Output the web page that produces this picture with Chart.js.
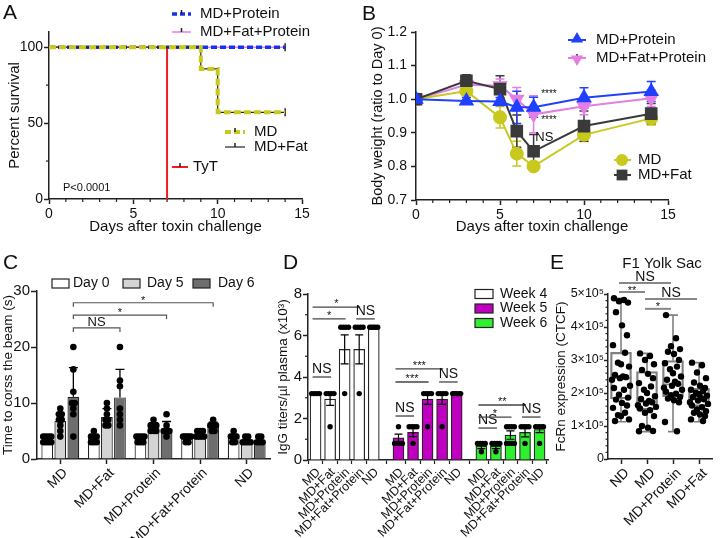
<!DOCTYPE html>
<html>
<head>
<meta charset="utf-8">
<title>Diet and toxin challenge</title>
<script src="https://cdn.jsdelivr.net/npm/chart.js@4.4.1/dist/chart.umd.min.js"></script>
<style>
  body { margin: 0; background: #fff; }
  #fig { position: relative; width: 725px; height: 538px; overflow: hidden; background: #fff; }
  #fig canvas { position: absolute; left: 0; top: 0; }
</style>
</head>
<body>
<div id="fig">
  <canvas id="chartA" width="725" height="538"></canvas>
  <canvas id="chartB" width="725" height="538"></canvas>
  <canvas id="chartC" width="725" height="538"></canvas>
  <canvas id="chartD" width="725" height="538"></canvas>
  <canvas id="chartE" width="725" height="538"></canvas>
</div>
<script>
// ---------- A: survival (%) ----------
const survDaysMD = [0, 9, 10, 14];
const survMD = [100, 85.7, 57.1, 57.1];
const survMDFat = [100, 85.7, 57.1, 57.1];
const survDaysProt = [0, 14];
const survProt = [100, 100];
const survFatProt = [100, 100];
const tytDay = 7;

// ---------- B: body weight (ratio to day 0) ----------
const bwDays = [0, 3, 5, 6, 7, 10, 14];
const bwMD = [1.000, 1.024, 0.946, 0.838, 0.800, 0.894, 0.943];
const bwMDsd = [0, 0.012, 0.032, 0.037, 0.012, 0.02, 0.02];
const bwFat = [1.000, 1.055, 1.030, 0.905, 0.845, 0.920, 0.957];
const bwFatSd = [0, 0.018, 0.04, 0.048, 0.05, 0.045, 0.03];
const bwProt = [1.000, 0.995, 0.993, 0.976, 0.976, 1.004, 1.023];
const bwProtSd = [0, 0.01, 0.012, 0.048, 0.03, 0.03, 0.03];
const bwFatProt = [1.000, 1.043, 1.040, 1.000, 0.955, 0.979, 1.003];
const bwFatProtSd = [0, 0.01, 0.02, 0.035, 0.055, 0.025, 0.025];

// ---------- C: beam crossing time (s) ----------
const beamGroups = ['MD', 'MD+Fat', 'MD+Protein', 'MD+Fat+Protein', 'ND'];
const beamDay0 = [3.5, 3.7, 3.6, 3.7, 3.8];
const beamDay5 = [6.8, 7.5, 5.7, 4.4, 3.4];
const beamDay6 = [11.1, 11.0, 5.4, 5.8, 3.3];
const beamSd0 = [0.5, 0.7, 0.5, 0.5, 0.6];
const beamSd5 = [1.3, 1.5, 0.8, 0.5, 0.5];
const beamSd6 = [5.2, 5.0, 1.3, 0.8, 0.5];
const beamPts0 = [[3,3,3,3,4,4,4,4],[3,3,3,4,4,4,5],[3,3,3,4,4,4,4],[3,3,4,4,4,4,4],[3,3,4,4,4,5]];
const beamPts5 = [[4,5,6,7,7,8,8,9],[6,6,7,7,8,9,10],[5,5,5,6,6,6,7],[4,4,4,4,5,5,5],[3,3,3,3,4,4]];
const beamPts6 = [[4,8,9,10,10,12,16,20],[6,7,8,9,13,14,20],[4,5,5,5,6,8],[5,5,6,6,6,7],[3,3,3,4,4]];
const beamBrackets = [
  { to: 1, y: 23.4, label: 'NS' },
  { to: 2, y: 25.7, label: '*' },
  { to: 3, y: 27.9, label: '*' }
];

// ---------- D: IgG titers (x10^3 per ul) ----------
const iggGroups = ['MD', 'MD+Fat', 'MD+Protein', 'MD+Fat+Protein', 'ND'];
const iggWeeks = ['Week 4', 'Week 5', 'Week 6'];
const iggWeek4 = [3.2, 2.93, 5.33, 5.33, 6.4];
const iggWeek5 = [1.07, 1.33, 2.93, 2.93, 3.2];
const iggWeek6 = [0.67, 0.67, 1.2, 1.33, 1.47];
const iggErr4 = [0, 0.3, 0.7, 0.7, 0];
const iggErr5 = [0.18, 0.2, 0.25, 0.25, 0];
const iggErr6 = [0.12, 0.12, 0.2, 0.22, 0.15];
const iggPts4 = [[3.2,3.2,3.2,3.2],[3.2,3.2,3.2,3.2,1.6],[6.4,6.4,6.4,6.4,3.2],[6.4,6.4,6.4,6.4,3.2],[6.4,6.4,6.4,6.4,6.4]];
const iggPts5 = [[1.6,0.8,0.8,0.8,0.8],[1.6,1.6,1.6,1.6,0.8],[3.2,3.2,3.2,3.2,1.6],[3.2,3.2,3.2,3.2,1.6],[3.2,3.2,3.2,3.2,3.2]];
const iggPts6 = [[0.8,0.8,0.8,0.8,0.4],[0.8,0.8,0.8,0.8,0.4],[1.6,1.6,1.6,1.6,0.8,0.8,0.8,0.8],[1.6,1.6,1.6,1.6,0.8],[1.6,1.6,1.6,1.6,0.8]];
const iggBrackets = [
  { w: 0, a: 0, b: 1, y: 4.0, label: 'NS' },
  { w: 0, a: 0, b: 2, y: 6.8, label: '*' },
  { w: 0, a: 0, b: 3, y: 7.37, label: '*' },
  { w: 0, a: 3, b: 4, y: 6.8, label: 'NS' },
  { w: 1, a: 0, b: 1, y: 2.12, label: 'NS' },
  { w: 1, a: 0, b: 2, y: 3.76, label: '***' },
  { w: 1, a: 0, b: 3, y: 4.39, label: '***' },
  { w: 1, a: 3, b: 4, y: 3.76, label: 'NS' },
  { w: 2, a: 0, b: 1, y: 1.54, label: 'NS' },
  { w: 2, a: 0, b: 2, y: 2.07, label: '*' },
  { w: 2, a: 0, b: 3, y: 2.65, label: '**' },
  { w: 2, a: 3, b: 4, y: 2.07, label: 'NS' }
];

// ---------- E: FcRn expression, F1 yolk sac (CTCF) ----------
const fcrnGroups = ['ND', 'MD', 'MD+Protein', 'MD+Fat'];
const fcrnMin = [113000, 83000, 83000, 113000];
const fcrnQ1 = [182000, 149000, 188000, 159000];
const fcrnMed = [245000, 174000, 226000, 188000];
const fcrnQ3 = [323000, 265000, 298000, 214000];
const fcrnMax = [487000, 320000, 436000, 292000];
const fcrnND = [487000, 482000, 478000, 474000, 445000, 405000, 375000, 345000, 322000, 292000, 287000, 280000, 255000, 250000, 248000, 245000, 240000, 222000, 215000, 210000, 195000, 186000, 180000, 170000, 162000, 155000, 140000, 133000, 130000, 120000, 115000];
const fcrnMD = [320000, 312000, 300000, 287000, 270000, 258000, 245000, 230000, 220000, 210000, 200000, 190000, 182000, 176000, 172000, 168000, 163000, 158000, 153000, 148000, 140000, 130000, 100000, 95000, 85000, 84000];
const fcrnProt = [436000, 366000, 342000, 333000, 325000, 318000, 300000, 290000, 280000, 272000, 260000, 250000, 240000, 234000, 228000, 222000, 216000, 210000, 204000, 198000, 193000, 188000, 183000, 178000, 172000, 112000, 84000];
const fcrnFat = [292000, 284000, 262000, 245000, 232000, 222000, 215000, 210000, 205000, 200000, 196000, 192000, 188000, 185000, 181000, 177000, 172000, 167000, 162000, 157000, 150000, 145000, 140000, 135000, 130000, 120000, 115000];
const fcrnBrackets = [
  { a: 0, b: 2, y: 533000, label: 'NS' },
  { a: 0, b: 1, y: 506000, label: '**' },
  { a: 1, b: 3, y: 485000, label: 'NS' },
  { a: 1, b: 2, y: 455000, label: '*' }
];

// ---------- shared setup ----------
const FF = '"Liberation Sans", Arial, Helvetica, sans-serif';
Chart.defaults.font.family = FF;
Chart.defaults.color = '#111';
Chart.defaults.animation = false;
Chart.defaults.responsive = false;
Chart.defaults.maintainAspectRatio = false;
Chart.defaults.plugins.legend.display = false;
Chart.defaults.plugins.tooltip.enabled = false;

const AX = '#222';
const OLIVE = '#c8c81e', VIOLET = '#e47ee4', BLUE = '#2040ff', DARK = '#3a3a3a';

function pt(xs, ys) { return xs.map((x, i) => ({ x: x, y: ys[i] })); }

function txt(ctx, s, x, y, size, align, color, rot) {
  ctx.save();
  ctx.font = size + 'px ' + FF;
  ctx.fillStyle = color || '#111';
  ctx.textAlign = align || 'left';
  ctx.textBaseline = 'middle';
  ctx.translate(x, y);
  if (rot) ctx.rotate(rot);
  ctx.fillText(s, 0, 0);
  ctx.restore();
}

function yAxis(o) {
  return {
    type: 'linear', min: o.min, max: o.max,
    afterBuildTicks: s => { s.ticks = o.ticks.map(v => ({ value: v })); },
    afterFit: s => { s.width = o.w; },
    ticks: { font: { size: o.tf }, padding: o.tp, color: '#111', autoSkip: false, callback: o.cb || (v => v) },
    grid: { drawOnChartArea: false, tickLength: o.tl || 5, tickWidth: 1.5, tickColor: AX },
    border: { color: AX, width: 1.5 },
    title: { display: true, text: o.title, font: { size: o.ttf }, color: '#111', padding: { top: o.tpt, bottom: 0 } }
  };
}

function xLin(o) {
  return {
    type: 'linear', min: o.min, max: o.max,
    afterBuildTicks: s => { s.ticks = o.ticks.map(v => ({ value: v })); },
    afterFit: s => { s.height = o.h; },
    ticks: { font: { size: o.tf }, padding: 2, color: '#111', autoSkip: false, maxRotation: 0 },
    grid: { drawOnChartArea: false, tickLength: 5, tickWidth: 1.5, tickColor: AX },
    border: { color: AX, width: 1.5 },
    title: { display: true, text: o.title, font: { size: o.ttf }, color: '#111', padding: { top: 0, bottom: o.tpb } }
  };
}

function xCat(h, size, shift) {
  return {
    type: 'category', offset: true,
    afterFit: s => { s.height = h; },
    ticks: { font: { size: size }, padding: 1, labelOffset: shift, color: '#111', autoSkip: false, minRotation: 45, maxRotation: 45 },
    grid: { offset: false, drawOnChartArea: false, tickLength: 5, tickWidth: 1.5, tickColor: AX },
    border: { color: AX, width: 1.5 }
  };
}

// small unlabeled ticks between the labelled ones
Chart.register({
  id: 'minor',
  afterDraw(chart, args, opts) {
    const ctx = chart.ctx, ca = chart.chartArea;
    ctx.save(); ctx.strokeStyle = AX; ctx.lineWidth = 1.2;
    (opts.list || []).forEach(m => {
      const s = chart.scales[m.axis];
      m.values.forEach(v => {
        const p = s.getPixelForValue(v);
        ctx.beginPath();
        if (m.axis === 'x') { ctx.moveTo(p, ca.bottom); ctx.lineTo(p, ca.bottom + m.len); }
        else { ctx.moveTo(ca.left, p); ctx.lineTo(ca.left - m.len, p); }
        ctx.stroke();
      });
    });
    ctx.restore();
  }
});

function errBars(chart, dsi, sd, cap, color, lw, upOnly) {
  const meta = chart.getDatasetMeta(dsi), ys = chart.scales.y, ctx = chart.ctx;
  const vals = chart.data.datasets[dsi].data;
  ctx.save(); ctx.strokeStyle = color; ctx.lineWidth = lw;
  meta.data.forEach((el, i) => {
    const s = sd[i]; if (!s) return;
    const v = typeof vals[i] === 'object' ? vals[i].y : vals[i];
    const yt = ys.getPixelForValue(v + s), yb = ys.getPixelForValue(upOnly ? v : v - s);
    ctx.beginPath();
    ctx.moveTo(el.x, yt); ctx.lineTo(el.x, yb);
    ctx.moveTo(el.x - cap, yt); ctx.lineTo(el.x + cap, yt);
    if (!upOnly) { ctx.moveTo(el.x - cap, yb); ctx.lineTo(el.x + cap, yb); }
    ctx.stroke();
  });
  ctx.restore();
}

// points with equal value are laid side by side across the bar
function barDots(chart, dsi, pts, r, step, maxSpan) {
  const meta = chart.getDatasetMeta(dsi), ys = chart.scales.y, ctx = chart.ctx;
  ctx.save(); ctx.fillStyle = '#000';
  meta.data.forEach((el, i) => {
    const counts = {};
    (pts[i] || []).forEach(v => { counts[v] = (counts[v] || 0) + 1; });
    Object.keys(counts).forEach(k => {
      const n = counts[k], y = ys.getPixelForValue(+k);
      const st = n > 1 ? Math.min(step, maxSpan / (n - 1)) : 0;
      for (let j = 0; j < n; j++) {
        ctx.beginPath(); ctx.arc(el.x + (j - (n - 1) / 2) * st, y, r, 0, Math.PI * 2); ctx.fill();
      }
    });
  });
  ctx.restore();
}

function bracket(ctx, x1, x2, y, label, o) {
  ctx.save(); ctx.strokeStyle = o.color; ctx.lineWidth = o.lw;
  ctx.beginPath();
  if (o.drop) { ctx.moveTo(x1, y + o.drop); ctx.lineTo(x1, y); ctx.lineTo(x2, y); ctx.lineTo(x2, y + o.drop); }
  else { ctx.moveTo(x1, y); ctx.lineTo(x2, y); }
  ctx.stroke(); ctx.restore();
  const ns = label === 'NS';
  txt(ctx, label, (x1 + x2) / 2, y - (ns ? o.nsOff : o.starOff), ns ? o.nsSize : o.starSize, 'center');
}

function legLine(ctx, x1, x2, y, color, w, dash) {
  ctx.save(); ctx.strokeStyle = color; ctx.lineWidth = w; ctx.setLineDash(dash || []);
  ctx.beginPath(); ctx.moveTo(x1, y); ctx.lineTo(x2, y); ctx.stroke();
  ctx.setLineDash([]); ctx.strokeStyle = AX; ctx.lineWidth = 1.5;
  const m = (x1 + x2) / 2;
  ctx.beginPath(); ctx.moveTo(m, y - 4); ctx.lineTo(m, y); ctx.stroke();
  ctx.restore();
}

function marker(ctx, type, x, y, r, color) {
  ctx.save(); ctx.fillStyle = color; ctx.beginPath();
  if (type === 'circle') ctx.arc(x, y, r, 0, Math.PI * 2);
  else if (type === 'rect') ctx.rect(x - r * 0.72, y - r * 0.72, r * 1.44, r * 1.44);
  else if (type === 'up') { ctx.moveTo(x, y - r); ctx.lineTo(x + r * 0.87, y + r * 0.5); ctx.lineTo(x - r * 0.87, y + r * 0.5); }
  else { ctx.moveTo(x, y + r); ctx.lineTo(x + r * 0.87, y - r * 0.5); ctx.lineTo(x - r * 0.87, y - r * 0.5); }
  ctx.closePath(); ctx.fill(); ctx.restore();
}

function censor(n) {
  return { pointStyle: 'line', pointRotation: 90, pointBorderColor: AX, pointBorderWidth: 1.5,
           pointRadius: c => c.dataIndex === n - 1 ? 4 : 0 };
}

// ---------- A ----------
new Chart(document.getElementById('chartA'), {
  type: 'line',
  data: { datasets: [
    { data: pt([tytDay, tytDay], [0, 100]), borderColor: '#f01c1c', borderWidth: 2, pointRadius: 0, order: 5 },
    Object.assign({ data: pt(survDaysProt, survFatProt), borderColor: VIOLET, borderWidth: 1.5, order: 4 }, censor(survDaysProt.length)),
    { data: pt(survDaysProt, survProt), borderColor: '#1432f0', borderWidth: 3.5, borderDash: [6, 3], pointRadius: 0, order: 3 },
    Object.assign({ data: pt(survDaysMD, survMDFat), borderColor: AX, borderWidth: 1.2, stepped: true, order: 2 }, censor(survDaysMD.length)),
    { data: pt(survDaysMD, survMD), borderColor: OLIVE, borderWidth: 4, borderDash: [7, 3], stepped: true, pointRadius: 0, order: 1 }
  ]},
  options: {
    layout: { padding: { left: 0, top: 32, right: 423, bottom: 299 } },
    scales: {
      x: xLin({ min: 0, max: 15, ticks: [0, 5, 10, 15], h: 40, title: 'Days after toxin challenge', ttf: 15, tpb: 3, tf: 14 }),
      y: yAxis({ min: 0, max: 110, ticks: [0, 50, 100], w: 49, title: 'Percent survival', ttf: 15, tpt: 6, tf: 14, tp: 1 })
    },
    plugins: { minor: { list: [
      { axis: 'x', values: [1, 2, 3, 4, 6, 7, 8, 9, 11, 12, 13, 14], len: 3 },
      { axis: 'y', values: [25, 75], len: 3 }
    ] } }
  },
  plugins: [{ id: 'annA', afterDraw(chart) {
    const ctx = chart.ctx;
    txt(ctx, 'A', 3, 13, 21);
    legLine(ctx, 172, 191, 14, '#1432f0', 3.5, [5, 3]);
    txt(ctx, 'MD+Protein', 200, 14, 15);
    legLine(ctx, 172, 191, 32, VIOLET, 1.5);
    txt(ctx, 'MD+Fat+Protein', 200, 32, 15);
    legLine(ctx, 225, 245, 132, OLIVE, 4, [6, 3]);
    txt(ctx, 'MD', 254, 132, 15);
    legLine(ctx, 225, 245, 147, AX, 1.2);
    txt(ctx, 'MD+Fat', 254, 147, 15);
    legLine(ctx, 172, 188, 167, '#f01c1c', 2);
    txt(ctx, 'TyT', 193, 167, 15);
    txt(ctx, 'P<0.0001', 63, 188, 11);
  } }]
});

// ---------- B ----------
function bwSeries(vals, sd, color, style, r, rot, order) {
  return { data: pt(bwDays, vals), sd: sd, borderColor: color, backgroundColor: color,
           pointBackgroundColor: color, pointBorderColor: color, pointStyle: style,
           pointRadius: r, pointRotation: rot, borderWidth: 2, order: order };
}
new Chart(document.getElementById('chartB'), {
  type: 'line',
  data: { datasets: [
    bwSeries(bwMD, bwMDsd, OLIVE, 'circle', 6, 0, 2),
    bwSeries(bwFat, bwFatSd, DARK, 'rect', 7.5, 0, 1),
    bwSeries(bwFatProt, bwFatProtSd, VIOLET, 'triangle', 7, 180, 3),
    bwSeries(bwProt, bwProtSd, BLUE, 'triangle', 7, 0, 0)
  ]},
  options: {
    layout: { padding: { left: 360, top: 32, right: 57, bottom: 300 } },
    scales: {
      x: xLin({ min: 0, max: 15, ticks: [0, 5, 10, 15], h: 38, title: 'Days after toxin challenge', ttf: 15, tpb: 2, tf: 14 }),
      y: yAxis({ min: 0.7, max: 1.2, ticks: [0.7, 0.8, 0.9, 1.0, 1.1, 1.2], w: 56, title: 'Body weight (ratio to Day 0)',
                 ttf: 14.5, tpt: 9, tf: 14, tp: 4, cb: v => v.toFixed(1) })
    },
    plugins: { minor: { list: [{ axis: 'x', values: [1, 2, 3, 4, 6, 7, 8, 9, 11, 12, 13, 14], len: 3 }] } }
  },
  plugins: [{ id: 'annB',
    beforeDatasetsDraw(chart) {
      chart.data.datasets.forEach((ds, i) => errBars(chart, i, ds.sd, 4.5, ds.borderColor, 1.5, false));
    },
    afterDraw(chart) {
      const ctx = chart.ctx;
      txt(ctx, 'B', 362, 14, 21);
      legLine(ctx, 568, 586, 40, BLUE, 2); marker(ctx, 'up', 577, 39, 7, BLUE);
      txt(ctx, 'MD+Protein', 596, 40, 15);
      legLine(ctx, 568, 586, 58, VIOLET, 2); marker(ctx, 'down', 577, 59, 7, VIOLET);
      txt(ctx, 'MD+Fat+Protein', 596, 58, 15);
      legLine(ctx, 614, 631, 160, OLIVE, 2); marker(ctx, 'circle', 622, 160, 6, OLIVE);
      txt(ctx, 'MD', 638, 160, 15);
      legLine(ctx, 614, 631, 175, DARK, 2); marker(ctx, 'rect', 622, 175, 7.5, DARK);
      txt(ctx, 'MD+Fat', 638, 175, 15);
      const xs = chart.scales.x, ys = chart.scales.y;
      txt(ctx, '****', xs.getPixelForValue(7.45), ys.getPixelForValue(1.016), 10);
      txt(ctx, '****', xs.getPixelForValue(7.45), ys.getPixelForValue(0.936), 10);
      txt(ctx, 'NS', xs.getPixelForValue(7.1), ys.getPixelForValue(0.885), 13);
    }
  }]
});

// ---------- C ----------
new Chart(document.getElementById('chartC'), {
  type: 'bar',
  data: { labels: beamGroups, datasets: [
    { label: 'Day 0', data: beamDay0, sd: beamSd0, pts: beamPts0, backgroundColor: '#ffffff' },
    { label: 'Day 5', data: beamDay5, sd: beamSd5, pts: beamPts5, backgroundColor: '#d4d4d4' },
    { label: 'Day 6', data: beamDay6, sd: beamSd6, pts: beamPts6, backgroundColor: '#6e6e6e' }
  ]},
  options: {
    layout: { padding: { left: 0, top: 291, right: 455, bottom: 0 } },
    datasets: { bar: { categoryPercentage: 0.84, barPercentage: 0.9, borderColor: AX, borderWidth: 1.2 } },
    scales: {
      x: xCat(79, 13.8, 5),
      y: yAxis({ min: 0, max: 30, ticks: [0, 10, 20, 30], w: 37, title: 'Time to corss the beam (s)', ttf: 13.5, tpt: 0, tf: 15, tp: 1, tl: 6 })
    }
  },
  plugins: [{ id: 'annC', afterDatasetsDraw(chart) {
    const ctx = chart.ctx;
    chart.data.datasets.forEach((ds, i) => {
      errBars(chart, i, ds.sd, 4.5, '#000', 1.3, true);
      barDots(chart, i, ds.pts, 3.3, 2.8, 8);
    });
    const d6 = chart.getDatasetMeta(2).data, ys = chart.scales.y;
    beamBrackets.forEach(b => bracket(ctx, d6[0].x, d6[b.to].x, ys.getPixelForValue(b.y), b.label,
      { color: '#555', lw: 1.2, drop: 4, nsOff: 6, starOff: 2, nsSize: 13, starSize: 11 }));
    txt(ctx, 'C', 3, 263, 21);
    const leg = [[52, '#ffffff', 'Day 0', 73], [123, '#d4d4d4', 'Day 5', 147], [193, '#6e6e6e', 'Day 6', 218]];
    leg.forEach(l => {
      ctx.save(); ctx.fillStyle = l[1]; ctx.strokeStyle = AX; ctx.lineWidth = 1.2;
      ctx.fillRect(l[0], 279, 17, 9); ctx.strokeRect(l[0], 279, 17, 9); ctx.restore();
      txt(ctx, l[2], l[3], 283.5, 14);
    });
  } }]
});

// ---------- D ----------
const iggSpan = 5.7; // group spacing on the x axis, in bar slots
const iggPos = (w, i) => w * iggSpan + i;
const iggMeans = [iggWeek4, iggWeek5, iggWeek6];
const iggErrs = [iggErr4, iggErr5, iggErr6];
const iggPts = [iggPts4, iggPts5, iggPts6];
const iggColors = ['#ffffff', '#c000c0', '#30ee30'];
const iggTickPos = [];
iggMeans.forEach((m, w) => m.forEach((v, i) => iggTickPos.push(iggPos(w, i))));
new Chart(document.getElementById('chartD'), {
  type: 'bar',
  data: { datasets: iggMeans.map((m, w) => ({
    label: iggWeeks[w], data: m.map((v, i) => ({ x: iggPos(w, i), y: v })), sd: iggErrs[w], pts: iggPts[w],
    backgroundColor: iggColors[w]
  })) },
  options: {
    layout: { padding: { left: 268, top: 294, right: 177, bottom: 0 } },
    datasets: { bar: { grouped: false, barThickness: 11, borderColor: AX, borderWidth: 1.2 } },
    scales: {
      x: {
        type: 'linear', min: -0.52, max: 15.98, offset: false,
        afterBuildTicks: s => { s.ticks = iggTickPos.map(v => ({ value: v })); },
        afterFit: s => { s.height = 78; },
        ticks: { font: { size: 12.5 }, padding: 1, labelOffset: 3, color: '#111', autoSkip: false, minRotation: 45, maxRotation: 45,
                 callback: (v, i) => iggGroups[i % iggGroups.length] },
        grid: { drawOnChartArea: false, tickLength: 4, tickWidth: 1.2, tickColor: AX },
        border: { color: AX, width: 1.5 }
      },
      y: yAxis({ min: 0, max: 8, ticks: [0, 2, 4, 6, 8], w: 40, title: 'IgG titers/µl plasma (x10³)', ttf: 13.5, tpt: 7, tf: 15, tp: 1 })
    },
    plugins: { minor: { list: [{ axis: 'y', values: [1, 3, 5, 7], len: 3 }] } }
  },
  plugins: [{ id: 'annD', afterDatasetsDraw(chart) {
    const ctx = chart.ctx, xs = chart.scales.x, ys = chart.scales.y;
    chart.data.datasets.forEach((ds, i) => {
      errBars(chart, i, ds.sd, 4, '#000', 1.2, false);
      barDots(chart, i, ds.pts, 2.7, 2.6, 8);
    });
    iggBrackets.forEach(b => bracket(ctx, xs.getPixelForValue(iggPos(b.w, b.a)) - 3, xs.getPixelForValue(iggPos(b.w, b.b)) + 1,
      ys.getPixelForValue(b.y), b.label, { color: '#444', lw: 1.3, drop: 0, nsOff: 8, starOff: 3, nsSize: 14, starSize: 11 }));
    txt(ctx, 'D', 283, 263, 21);
    iggWeeks.forEach((w, i) => {
      const y = 294 + i * 14.5;
      ctx.save(); ctx.fillStyle = iggColors[i]; ctx.strokeStyle = AX; ctx.lineWidth = 1.2;
      ctx.fillRect(475, y - 4.5, 18, 9); ctx.strokeRect(475, y - 4.5, 18, 9); ctx.restore();
      txt(ctx, w, 500, y, 14);
    });
  } }]
});

// ---------- E ----------
const fcrnPts = [fcrnND, fcrnMD, fcrnProt, fcrnFat];
const jitter = [-7, 3, -2, 7, -5, 1, 6, -8, 4, -3, 0, 8, -6, 2, 5, -1, -9, 9];
new Chart(document.getElementById('chartE'), {
  type: 'bar',
  data: { labels: fcrnGroups, datasets: [{
    data: fcrnQ1.map((q, i) => [q, fcrnQ3[i]]),
    backgroundColor: 'rgba(0,0,0,0)', borderColor: '#808080', borderWidth: 1.6, borderSkipped: false, barThickness: 21
  }] },
  options: {
    layout: { padding: { left: 548, top: 294, right: 13, bottom: 0 } },
    scales: {
      x: xCat(79, 14, 6),
      y: yAxis({ min: 0, max: 500000, ticks: [0, 100000, 200000, 300000, 400000, 500000], w: 60,
                 title: 'FcRn expression (CTCF)', ttf: 13.5, tpt: 5, tf: 12.5, tp: 0, tl: 4,
                 cb: v => v === 0 ? '0' : (v / 100000) + '×10⁵' })
    },
    plugins: { minor: { list: [{ axis: 'y', values: [20000, 40000, 60000, 80000, 120000, 140000, 160000, 180000,
      220000, 240000, 260000, 280000, 320000, 340000, 360000, 380000, 420000, 440000, 460000, 480000], len: 2.5 }] } }
  },
  plugins: [{ id: 'annE', afterDatasetsDraw(chart) {
    const ctx = chart.ctx, xs = chart.scales.x, ys = chart.scales.y;
    ctx.save(); ctx.strokeStyle = '#808080'; ctx.lineWidth = 1.6;
    fcrnGroups.forEach((g, i) => {
      const x = xs.getPixelForValue(i);
      const yMin = ys.getPixelForValue(fcrnMin[i]), yQ1 = ys.getPixelForValue(fcrnQ1[i]);
      const yMed = ys.getPixelForValue(fcrnMed[i]), yQ3 = ys.getPixelForValue(fcrnQ3[i]), yMax = ys.getPixelForValue(fcrnMax[i]);
      ctx.beginPath();
      ctx.moveTo(x, yQ1); ctx.lineTo(x, yMin); ctx.moveTo(x - 5, yMin); ctx.lineTo(x + 5, yMin);
      ctx.moveTo(x, yQ3); ctx.lineTo(x, yMax); ctx.moveTo(x - 5, yMax); ctx.lineTo(x + 5, yMax);
      ctx.moveTo(x - 10.5, yMed); ctx.lineTo(x + 10.5, yMed);
      ctx.stroke();
    });
    ctx.restore();
    ctx.save(); ctx.fillStyle = '#000';
    fcrnPts.forEach((list, i) => {
      const x = xs.getPixelForValue(i);
      list.forEach((v, j) => {
        ctx.beginPath(); ctx.arc(x + jitter[j % jitter.length], ys.getPixelForValue(v), 3.2, 0, Math.PI * 2); ctx.fill();
      });
    });
    ctx.restore();
    fcrnBrackets.forEach(b => bracket(ctx, xs.getPixelForValue(b.a) - 2, xs.getPixelForValue(b.b) - 2,
      ys.getPixelForValue(b.y), b.label, { color: '#888', lw: 2, drop: 0, nsOff: 5.5, starOff: 1.5, nsSize: 14, starSize: 11 }));
    txt(ctx, 'E', 550, 263, 21);
    txt(ctx, 'F1 Yolk Sac', 662, 264, 15, 'center');
  } }]
});
</script>
</body>
</html>
